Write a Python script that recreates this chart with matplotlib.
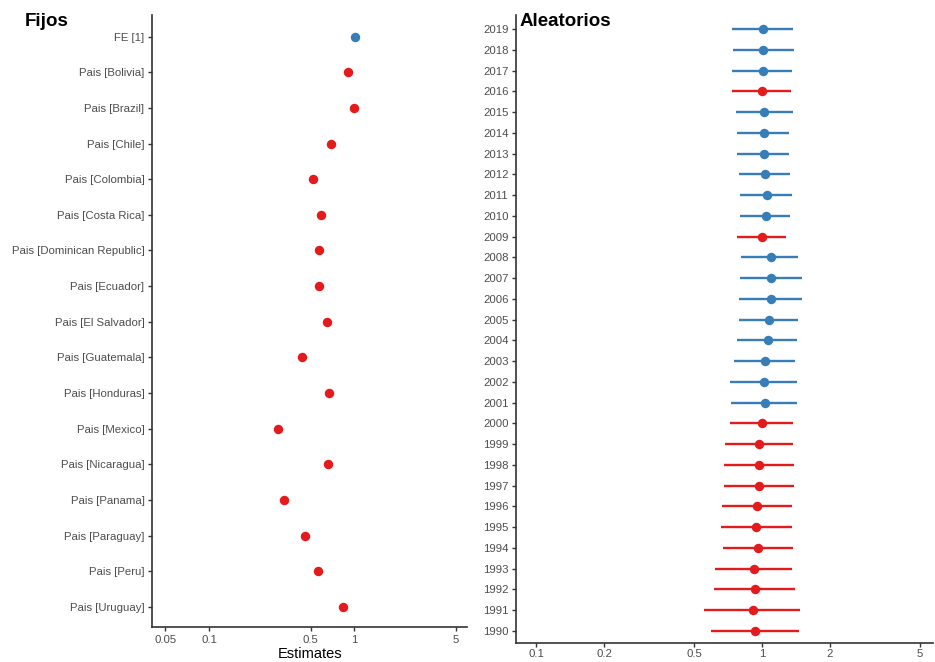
import numpy as np
import matplotlib
matplotlib.use("Agg")
import matplotlib.pyplot as plt
from matplotlib.ticker import FixedLocator, NullLocator

plt.rcParams['font.family'] = ['Liberation Sans', 'DejaVu Sans']

RED = "#E41A1C"
BLUE = "#377EB8"

# fijos (fixed effects)
fijos_lab = ["FE [1]", "Pais [Bolivia]", "Pais [Brazil]", "Pais [Chile]", "Pais [Colombia]",
             "Pais [Costa Rica]", "Pais [Dominican Republic]", "Pais [Ecuador]",
             "Pais [El Salvador]", "Pais [Guatemala]", "Pais [Honduras]", "Pais [Mexico]",
             "Pais [Nicaragua]", "Pais [Panama]", "Pais [Paraguay]", "Pais [Peru]",
             "Pais [Uruguay]"]
fijos_est = [1.01, 0.91, 1.00, 0.69, 0.52, 0.59, 0.57, 0.57, 0.65, 0.44, 0.67, 0.30,
             0.66, 0.33, 0.46, 0.56, 0.84]
fijos_lo = [1.00, 0.90, 0.99, 0.68, 0.515, 0.585, 0.565, 0.545, 0.645, 0.435, 0.645, 0.297,
            0.65, 0.327, 0.455, 0.555, 0.83]
fijos_hi = [1.02, 0.92, 1.01, 0.70, 0.525, 0.595, 0.575, 0.60, 0.655, 0.445, 0.695, 0.303,
            0.67, 0.333, 0.465, 0.565, 0.85]
fijos_pos = [True] + [False] * 16

# aleatorios (random effects by year)
years = list(range(2019, 1989, -1))
ale_est = [1.01, 1.01, 1.01, 1.00, 1.02, 1.02, 1.02, 1.03, 1.05, 1.04,
           1.00, 1.10, 1.10, 1.10, 1.07, 1.06, 1.03, 1.02, 1.03, 1.00,
           0.97, 0.97, 0.97, 0.95, 0.94, 0.96, 0.92, 0.93, 0.91, 0.93]
ale_lo = [0.738, 0.745, 0.738, 0.738, 0.768, 0.776, 0.776, 0.792, 0.800, 0.800,
          0.776, 0.808, 0.800, 0.792, 0.792, 0.776, 0.752, 0.723, 0.730, 0.723,
          0.687, 0.680, 0.680, 0.667, 0.660, 0.673, 0.621, 0.615, 0.555, 0.596]
ale_hi = [1.37, 1.383, 1.356, 1.342, 1.37, 1.315, 1.315, 1.328, 1.356, 1.328,
          1.276, 1.44, 1.50, 1.50, 1.44, 1.426, 1.397, 1.426, 1.426, 1.37,
          1.37, 1.383, 1.383, 1.356, 1.356, 1.37, 1.356, 1.397, 1.47, 1.455]
ale_pos = [True, True, True, False, True, True, True, True, True, True,
           False, True, True, True, True, True, True, True, True, False,
           False, False, False, False, False, False, False, False, False, False]

fig = plt.figure(figsize=(9.35, 6.62), dpi=100)
ax1 = fig.add_axes([0.1626, 0.053, 0.337, 0.924])
ax2 = fig.add_axes([0.552, 0.0287, 0.446, 0.9483])


def draw(ax, lab, est, lo, hi, pos, lw):
    n = len(lab)
    for i in range(n):
        c = BLUE if pos[i] else RED
        y = n - 1 - i
        ax.plot([lo[i], hi[i]], [y, y], color=c, lw=lw, solid_capstyle='butt', zorder=2)
        ax.plot(est[i], y, 'o', color=c, ms=6.8, mec='none', zorder=3)
    ax.set_yticks(range(n))
    ax.set_yticklabels(lab[::-1])
    ax.set_xscale('log')
    for s in ['top', 'right']:
        ax.spines[s].set_visible(False)
    for s in ['left', 'bottom']:
        ax.spines[s].set_linewidth(1.2)
        ax.spines[s].set_color('#333333')
    ax.tick_params(axis='both', labelsize=8.2, labelcolor='#4D4D4D', color='#333333',
                   length=3, width=1, pad=2.5)
    ax.xaxis.set_minor_locator(NullLocator())


draw(ax1, fijos_lab, fijos_est, fijos_lo, fijos_hi, fijos_pos, 1.6)
ax1.set_xlim(0.0404, 6.0)
ax1.set_ylim(-0.56, 16.6)
ax1.xaxis.set_major_locator(FixedLocator([0.05, 0.1, 0.5, 1, 5]))
ax1.set_xticklabels(["0.05", "0.1", "0.5", "1", "5"])
ax1.set_xlabel("Estimates", fontsize=10.5, labelpad=2)

draw(ax2, [str(y) for y in years], ale_est, ale_lo, ale_hi, ale_pos, 1.7)
ax2.set_xlim(0.0817, 5.72)
ax2.set_ylim(-0.58, 29.67)
ax2.xaxis.set_major_locator(FixedLocator([0.1, 0.2, 0.5, 1, 2, 5]))
ax2.set_xticklabels(["0.1", "0.2", "0.5", "1", "2", "5"])
ax2.tick_params(axis='x', pad=1.5)

fig.text(25 / 935, 1 - 22 / 662, "Fijos", fontsize=13.5, fontweight='bold', va='center', ha='left')
fig.text(520 / 935, 1 - 22 / 662, "Aleatorios", fontsize=13.5, fontweight='bold', va='center', ha='left')

fig.savefig("out.png", dpi=100)
